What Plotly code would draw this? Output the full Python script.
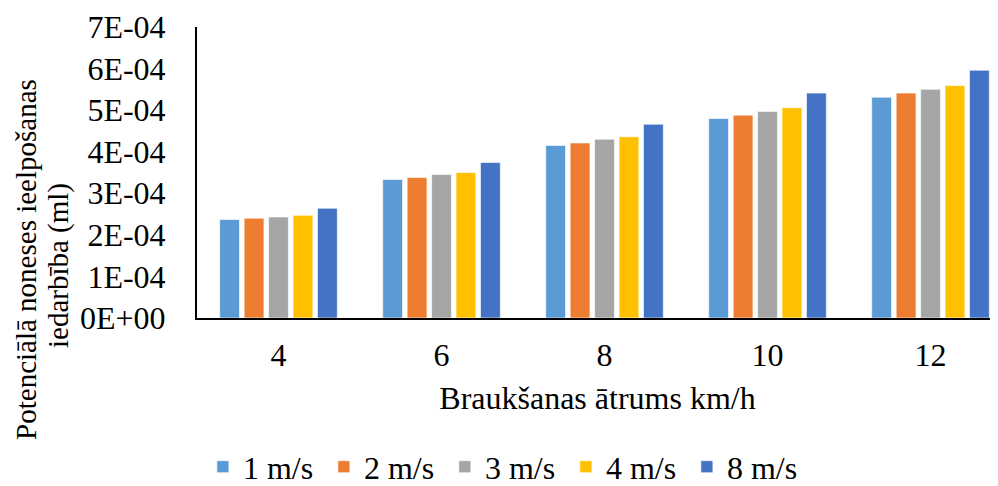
import plotly.graph_objects as go

# speeds km/h
kategorijas = ['4', '6', '8', '10', '12']
vejs = ['1 m/s', '2 m/s', '3 m/s', '4 m/s', '8 m/s']
v1 = [2.37e-4, 3.33e-4, 4.15e-4, 4.80e-4, 5.31e-4]
v2 = [2.40e-4, 3.38e-4, 4.21e-4, 4.88e-4, 5.41e-4]
v3 = [2.43e-4, 3.45e-4, 4.30e-4, 4.97e-4, 5.50e-4]
v4 = [2.47e-4, 3.50e-4, 4.36e-4, 5.06e-4, 5.59e-4]
v8 = [2.64e-4, 3.74e-4, 4.66e-4, 5.41e-4, 5.96e-4]
ytickvals = [0, 1e-4, 2e-4, 3e-4, 4e-4, 5e-4, 6e-4, 7e-4]
yticktext = ['0E+00', '1E-04', '2E-04', '3E-04', '4E-04', '5E-04', '6E-04', '7E-04']

krasas = ['#5B9BD5', '#ED7D31', '#A5A5A5', '#FFC000', '#4472C4']
fonts = 'Liberation Serif, Times New Roman, serif'
fs = 32

fig = go.Figure()
for nos, vert, kr in zip(vejs, [v1, v2, v3, v4, v8], krasas):
    fig.add_trace(go.Bar(x=kategorijas, y=vert, name=nos,
                         marker={'color': kr, 'line': {'color': 'rgba(255,255,255,0.6)', 'width': 1}}))

# page body has 8px margin, so the figure is 8px smaller
fig.update_layout(width=990, height=478, barmode='group', bargap=0.25, bargroupgap=0.19,
                  paper_bgcolor='white', plot_bgcolor='white',
                  margin=dict(l=189, r=0, t=19, b=168),
                  font={'family': fonts, 'size': fs, 'color': 'black'})
fig.update_xaxes(type='category', range=[-0.5, 4.414], showline=True, linecolor='black', linewidth=2,
                 ticks='outside', ticklen=8, tickcolor='rgba(0,0,0,0)', showgrid=False, automargin=False,
                 title={'text': 'Braukšanas ātrums km/h', 'standoff': 14, 'font': {'size': fs}})
fig.update_yaxes(range=[0, 7e-4], tickvals=ytickvals, ticktext=yticktext, showline=True,
                 linecolor='black', linewidth=2, ticks='outside', ticklen=23, automargin=False,
                 tickcolor='rgba(0,0,0,0)', showgrid=False, zeroline=False)
# y title as two annotations, it sits lower than the plot middle
fig.add_annotation(text='Potenciālā noneses ieelpošanas', textangle=-90,
                   xref='paper', yref='paper', x=-0.2135, y=0.203, xanchor='center', yanchor='middle',
                   showarrow=False, font={'size': 29, 'family': fonts})
fig.add_annotation(text='iedarbība (ml)', textangle=-90,
                   xref='paper', yref='paper', x=-0.173, y=0.18, xanchor='center', yanchor='middle',
                   showarrow=False, font={'size': 29, 'family': fonts})
# legend relative to the whole figure so it does not shrink the plot
fig.update_layout(legend={'orientation': 'h', 'x': 0.385, 'xanchor': 'center',
                          'yref': 'container', 'y': 0.04, 'yanchor': 'middle',
                          'font': {'size': fs}, 'traceorder': 'normal', 'entrywidth': 76})
fig.write_html('out.html')
